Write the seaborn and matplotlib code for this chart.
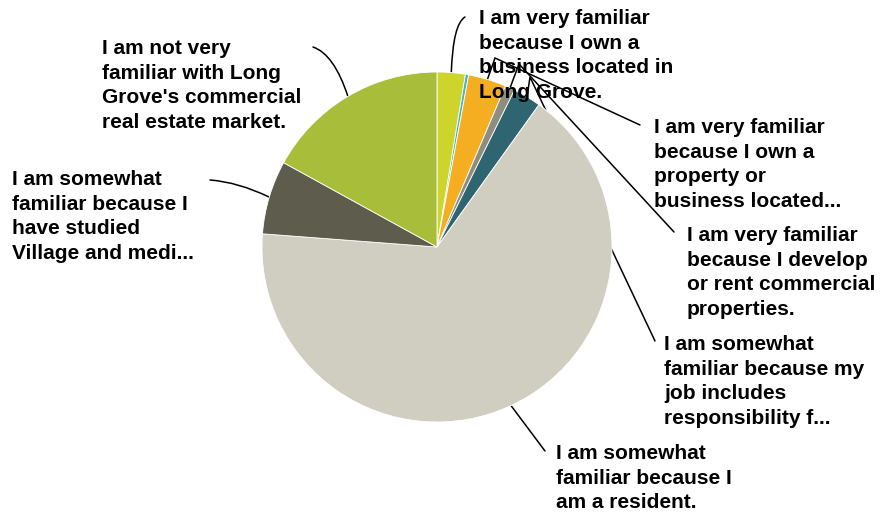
import numpy as np
import matplotlib
matplotlib.use('Agg')
import matplotlib.pyplot as plt
from matplotlib.path import Path
from matplotlib.patches import PathPatch
import seaborn as sns

# Survey answers (share of respondents, %), clockwise from 12 o'clock
answers = [
    "I am very familiar\nbecause I own a\nbusiness located in\nLong Grove.",
    "",
    "I am very familiar\nbecause I own a\nproperty or\nbusiness located...",
    "I am very familiar\nbecause I develop\nor rent commercial\nproperties.",
    "I am somewhat\nfamiliar because my\njob includes\nresponsibility f...",
    "I am somewhat\nfamiliar because I\nam a resident.",
    "I am somewhat\nfamiliar because I\nhave studied\nVillage and medi...",
    "I am not very\nfamiliar with Long\nGrove's commercial\nreal estate market.",
]
shares = [2.6, 0.3, 3.5, 0.9, 2.6, 66.3, 6.8, 17.0]
colors = ['#cdd42b', '#41b6c4', '#f5ae21', '#8f8e7e', '#2f6471',
          '#cfcec0', '#5e5c4d', '#a8bd3a']

# label layout in pixels (left, top), leader line bend and end
W, H = 880, 514
label_pos = [(479, 9), None, (654, 118), (687, 226), (664, 335),
             (556, 444), (12, 170), (102, 39)]
bends = [('curve', (453, 24)), None, ('kink', (495, 58)), ('kink', (519, 64)),
         ('kink', (530, 77)), None, ('curve', (238, 182)), ('curve', (334, 54))]
line_end = [(465, 17), None, (640, 125), (674, 232), (655, 341),
            (545, 451), (210, 180), (313, 47)]

sns.set_style('white')
plt.rcParams['font.family'] = ['Liberation Sans', 'DejaVu Sans']

fig = plt.figure(figsize=(8.8, 5.14), dpi=100)
ax = fig.add_axes([0, 0, 1, 1])
cx, cy, R = 437, H - 247, 175
wedges, _ = ax.pie(shares, colors=colors, startangle=90, counterclock=False,
                   center=(cx, cy), radius=R,
                   wedgeprops=dict(edgecolor='white', linewidth=0.6))
for w in wedges:
    w.set_zorder(3)

for i, w in enumerate(wedges):
    if label_pos[i] is None:
        continue
    mid = np.deg2rad((w.theta1 + w.theta2) / 2)
    start = (cx + R * np.cos(mid), cy + R * np.sin(mid))
    end = (line_end[i][0], H - line_end[i][1])
    if bends[i] is None:
        verts, codes = [start, end], [Path.MOVETO, Path.LINETO]
    else:
        kind, (bx, by) = bends[i]
        b = (bx, H - by)
        if kind == 'curve':
            verts, codes = [start, b, end], [Path.MOVETO, Path.CURVE3, Path.CURVE3]
        else:
            verts, codes = [start, b, end], [Path.MOVETO, Path.LINETO, Path.LINETO]
    ax.add_patch(PathPatch(Path(verts, codes), fill=False, edgecolor='black',
                           lw=1.1, zorder=2, capstyle='round'))
    lx, ly = label_pos[i]
    ax.text(lx, H - ly, answers[i], ha='left', va='top', fontsize=15,
            fontweight='bold', color='black', linespacing=1.37, zorder=4)

ax.set_xlim(0, W)
ax.set_ylim(0, H)
ax.set_aspect('equal')
ax.axis('off')

plt.savefig('out.png', dpi=100)
